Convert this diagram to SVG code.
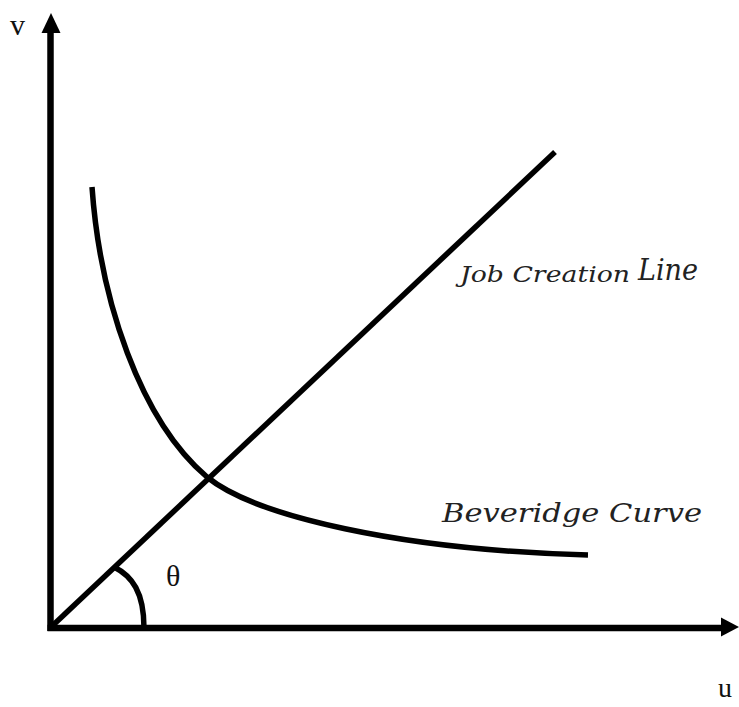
<svg xmlns="http://www.w3.org/2000/svg" width="739" height="707" viewBox="0 0 739 707">
<style>
.ln{fill:none;stroke:#000;stroke-width:5.5;stroke-linecap:butt}
.ax{fill:none;stroke:#000;stroke-width:6.5}
.lab{font-family:"Liberation Serif","DejaVu Serif",serif;fill:#111}
.it{font-family:"DejaVu Serif","Liberation Serif",serif;font-style:italic;fill:#222}
</style>
<rect width="739" height="707" fill="#fff"/>
<g id="axes">
<line class="ax" x1="50.5" y1="631" x2="50.5" y2="30"/>
<polygon points="51,13 41.5,33 60.5,33" fill="#000"/>
<line class="ax" x1="47.5" y1="628" x2="722" y2="628"/>
<polygon points="739,627 721,617.5 721,636.5" fill="#000"/>
</g>
<g id="connectors">
<line id="job-creation-line" class="ln" x1="50" y1="628" x2="555" y2="152"/>
<path id="beveridge-curve" class="ln" d="M92,187 C100,300 140,420 207,477 C255,516 400,550 588,555"/>
<path id="angle-arc" class="ln" d="M114,567 C132,576 144,592 144,628"/>
</g>
<g id="labels">
<text class="lab" x="10" y="35" font-size="30">v</text>
<text class="lab" x="718" y="697" font-size="28">u</text>
<text class="lab" x="166" y="586" font-size="30">θ</text>
<text class="it" x="460" y="282" font-size="22" textLength="170" lengthAdjust="spacingAndGlyphs">Job Creation</text>
<text class="it" x="638" y="280" font-size="30" textLength="60" lengthAdjust="spacingAndGlyphs">Line</text>
<text class="it" x="442" y="522" font-size="26" textLength="260" lengthAdjust="spacingAndGlyphs">Beveridge Curve</text>
</g>
</svg>
